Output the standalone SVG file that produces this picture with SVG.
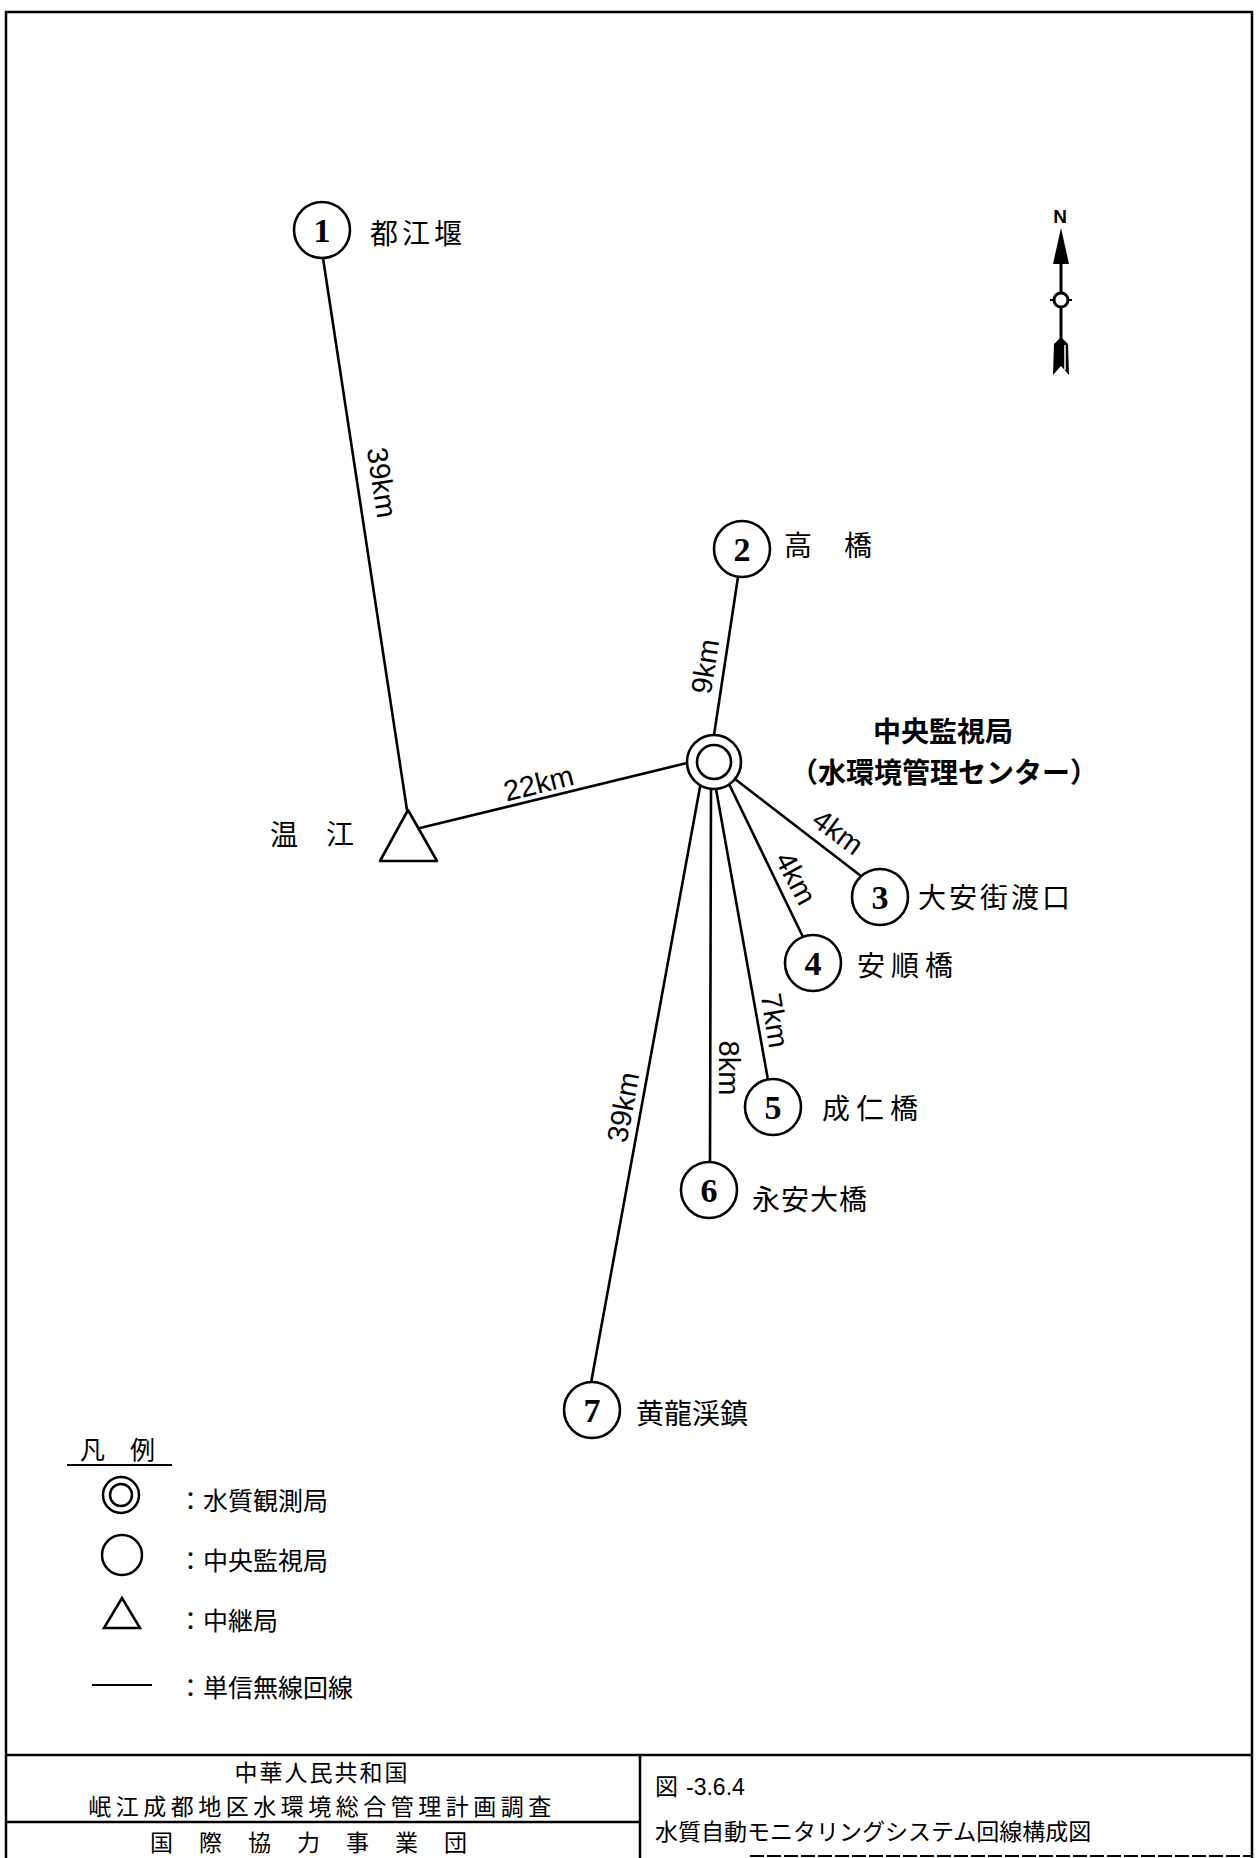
<svg xmlns="http://www.w3.org/2000/svg" width="1258" height="1858" viewBox="0 0 1258 1858">
<style>
.bd{stroke:#000;stroke-width:2.5;fill:none}
.ln{stroke:#000;stroke-width:2.6;fill:none;stroke-linecap:round}
.nd{fill:#fff;stroke:#000;stroke-width:2.6}
.num{font-family:"Liberation Serif","Times New Roman",serif;font-weight:bold;font-size:34px;text-anchor:middle;fill:#000}
.lbl{font-family:"Noto Sans CJK JP","Noto Sans CJK SC",sans-serif;font-size:28px;fill:#000}
.km{font-family:"Liberation Sans",Arial,sans-serif;font-size:29px;text-anchor:middle;fill:#000}
.lg{font-family:"Noto Sans CJK JP","Noto Sans CJK SC",sans-serif;font-size:25px;fill:#000}
.ft{font-family:"Noto Sans CJK JP","Noto Sans CJK SC",sans-serif;font-size:23px;fill:#000}
</style>
<rect x="0" y="0" width="1258" height="1858" fill="#fff"/>
<g id="frame">
<path class="bd" d="M6 1858 V12 H1252 V1858"/>
<path class="bd" d="M6 1755 H1252 M640 1755 V1858 M6 1822 H640"/>
<path d="M750 1856 H1252" stroke="#000" stroke-width="2" stroke-dasharray="14 3"/>
</g>
<g id="connectors">
<line class="ln" x1="323" y1="258" x2="407" y2="810"/>
<line class="ln" x1="420" y1="828" x2="687" y2="763"/>
<line class="ln" x1="738" y1="577" x2="714" y2="735"/>
<line class="ln" x1="735" y1="779" x2="861" y2="876"/>
<line class="ln" x1="730" y1="786" x2="803" y2="937"/>
<line class="ln" x1="716" y1="789" x2="768" y2="1080"/>
<line class="ln" x1="711" y1="789" x2="710" y2="1162"/>
<line class="ln" x1="700" y1="787" x2="591" y2="1383"/>
<text class="km" transform="translate(372 484) rotate(81.3)">39km</text>
<text class="km" transform="translate(541 793) rotate(-14)">22km</text>
<text class="km" transform="translate(715 668) rotate(-81)">9km</text>
<text class="km" transform="translate(832 840) rotate(36.3)">4km</text>
<text class="km" transform="translate(787 883) rotate(62)">4km</text>
<text class="km" transform="translate(765 1022) rotate(80.9)">7km</text>
<text class="km" transform="translate(719 1068) rotate(90)">8km</text>
<text class="km" transform="translate(633 1109) rotate(-79.6)">39km</text>
</g>
<g id="node1"><circle class="nd" cx="322" cy="230" r="28"/><text class="num" x="322" y="242">1</text><text class="lbl" x="370" y="244" font-size="29" letter-spacing="4">都江堰</text></g>
<g id="node2"><circle class="nd" cx="742" cy="549" r="28"/><text class="num" x="742" y="561">2</text><text class="lbl" x="784" y="556" font-size="27" letter-spacing="2">高　橋</text></g>
<g id="center"><circle class="nd" cx="714" cy="762" r="27" stroke-width="3"/><circle class="nd" cx="714" cy="762" r="17" stroke-width="3"/>
<text class="lbl" x="943" y="742" text-anchor="middle" font-weight="bold" font-size="27">中央監視局</text>
<text class="lbl" x="944" y="783" text-anchor="middle" font-weight="bold" font-size="25">（水環境管理センター）</text></g>
<g id="relay"><polygon class="nd" points="408,810 380,861 437,861" stroke-width="3" stroke-linejoin="round"/><text class="lbl" x="270" y="845" font-size="27">温　江</text></g>
<g id="node3"><circle class="nd" cx="880" cy="897" r="28"/><text class="num" x="880" y="909">3</text><text class="lbl" x="918" y="908" letter-spacing="3">大安街渡口</text></g>
<g id="node4"><circle class="nd" cx="813" cy="963" r="28"/><text class="num" x="813" y="975">4</text><text class="lbl" x="857" y="976" letter-spacing="6">安順橋</text></g>
<g id="node5"><circle class="nd" cx="773" cy="1107" r="28"/><text class="num" x="773" y="1119">5</text><text class="lbl" x="822" y="1119" letter-spacing="6">成仁橋</text></g>
<g id="node6"><circle class="nd" cx="709" cy="1190" r="28"/><text class="num" x="709" y="1202">6</text><text class="lbl" x="752" y="1210" font-size="27" letter-spacing="1">永安大橋</text></g>
<g id="node7"><circle class="nd" cx="592" cy="1410" r="28"/><text class="num" x="592" y="1422">7</text><text class="lbl" x="636" y="1424" font-size="27">黄龍渓鎮</text></g>
<g id="compass">
<text x="1060" y="223" font-family="Liberation Sans,Arial,sans-serif" font-size="19" font-weight="bold" text-anchor="middle">N</text>
<polygon points="1061,228 1069,264 1053,264" fill="#000"/>
<line x1="1061" y1="262" x2="1061" y2="340" stroke="#000" stroke-width="3"/>
<circle cx="1061" cy="300" r="7" fill="#fff" stroke="#000" stroke-width="3"/>
<path d="M1050 300 H1054 M1068 300 H1072" stroke="#000" stroke-width="2"/>
<polygon points="1054,344 1061,337 1068,344 1069,375 1061,366 1053,375" fill="#000"/>
<line x1="1065" y1="345" x2="1065" y2="370" stroke="#fff" stroke-width="1.5"/>
</g>
<g id="legend">
<text class="lg" x="80" y="1459" font-size="27">凡　例</text>
<line x1="67" y1="1465" x2="172" y2="1465" stroke="#000" stroke-width="2"/>
<circle cx="121" cy="1495" r="18" fill="none" stroke="#000" stroke-width="2.5"/>
<circle cx="121" cy="1495" r="11" fill="none" stroke="#000" stroke-width="2.5"/>
<text class="lg" x="178" y="1510">：水質観測局</text>
<circle cx="122" cy="1555" r="20" fill="none" stroke="#000" stroke-width="2.5"/>
<text class="lg" x="178" y="1570">：中央監視局</text>
<polygon points="122,1598 104,1628 140,1628" fill="none" stroke="#000" stroke-width="2.5"/>
<text class="lg" x="178" y="1630">：中継局</text>
<line x1="92" y1="1685" x2="152" y2="1685" stroke="#000" stroke-width="2"/>
<text class="lg" x="178" y="1697">：単信無線回線</text>
</g>
<g id="titleblock">
<text class="ft" x="322" y="1781" text-anchor="middle" letter-spacing="2">中華人民共和国</text>
<text class="ft" x="322" y="1815" text-anchor="middle" letter-spacing="4.5">岷江成都地区水環境総合管理計画調査</text>
<text class="ft" x="150" y="1851" font-size="25" letter-spacing="26">国際協力事業団</text>
<text class="ft" x="655" y="1795" font-size="24"><tspan>図</tspan><tspan font-family="Liberation Sans,Arial,sans-serif" dx="8">-3.6.4</tspan></text>
<text class="ft" x="655" y="1840" font-size="22">水質自動モニタリングシステム回線構成図</text>
</g>
</svg>
